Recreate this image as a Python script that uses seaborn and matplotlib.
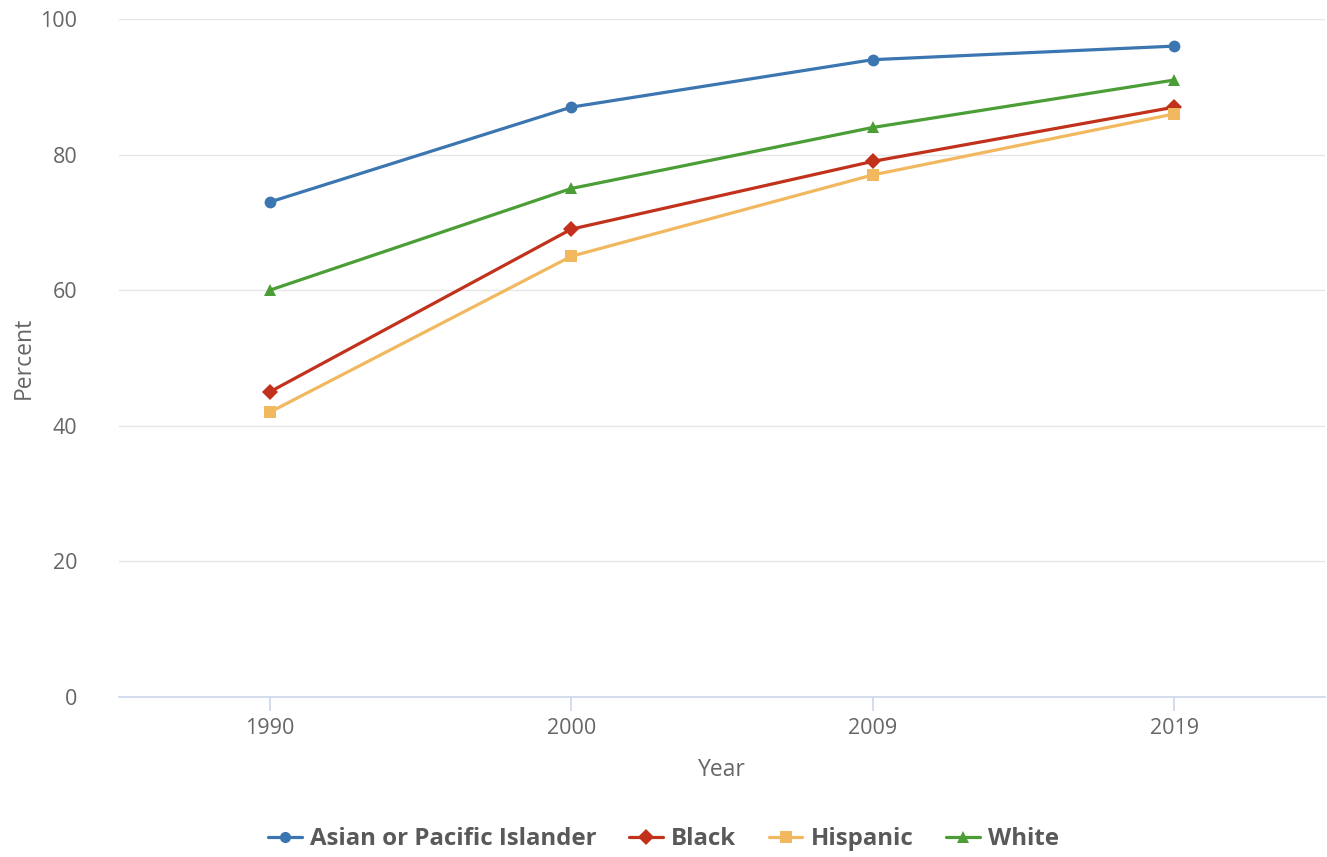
import pandas as pd
import matplotlib.pyplot as plt
import seaborn as sns

# Data
years = ["1990", "2000", "2009", "2019"]
groups = ["Asian or Pacific Islander", "Black", "Hispanic", "White"]
asian = [73, 87, 94, 96]
black = [45, 69, 79, 87]
hispanic = [42, 65, 77, 86]
white = [60, 75, 84, 91]

colors = ["#3b76b1", "#c1311b", "#f2b85f", "#4b9e36"]
markers = ["o", "D", "s", "^"]

df = pd.DataFrame({
    "Year": years * 4,
    "Percent": asian + black + hispanic + white,
    "Group": [g for g in groups for _ in years],
})

sns.set_style("white")
plt.rcParams["font.family"] = ["Open Sans", "DejaVu Sans"]

fig = plt.figure(figsize=(13.27, 8.57), dpi=100)
ax = fig.add_axes([119 / 1327, (857 - 697) / 857, (1325 - 119) / 1327, (697 - 19) / 857])

sns.lineplot(
    data=df, x="Year", y="Percent", hue="Group", style="Group",
    palette=dict(zip(groups, colors)),
    markers=dict(zip(groups, markers)),
    dashes=False, linewidth=2.3, markersize=8.5, markeredgewidth=0,
    ax=ax, legend=False,
)

ax.set_xlim(-0.5, 3.5)
ax.set_ylim(0, 100)
ax.set_yticks([0, 20, 40, 60, 80, 100])
ax.grid(axis="y", color="#e6e6e6", linewidth=1)
ax.set_axisbelow(True)
for s in ["top", "right", "left"]:
    ax.spines[s].set_visible(False)
ax.spines["bottom"].set_color("#ccd6eb")
ax.spines["bottom"].set_linewidth(1.2)
ax.tick_params(axis="x", bottom=True, labelcolor="#666666", color="#ccd6eb",
               labelsize=15.5, length=10, width=1.2, direction="out", pad=5)
ax.tick_params(axis="y", left=False, labelcolor="#666666", labelsize=15.5, length=0, pad=30)
ax.set_xlabel("Year", fontsize=16.5, color="#666666", labelpad=14)
ax.set_ylabel("Percent", fontsize=16.5, color="#666666", labelpad=3)

# Legend
handles = [
    plt.Line2D([], [], color=c, marker=m, linewidth=2.3, markersize=8, markeredgewidth=0)
    for c, m in zip(colors, markers)
]
leg = fig.legend(
    handles, groups, loc="center", bbox_to_anchor=(0.5, (857 - 839) / 857),
    ncol=4, frameon=False, handlelength=1.4, columnspacing=1.35, handletextpad=0.35,
    prop={"size": 17.3, "weight": "bold"},
)
for t in leg.get_texts():
    t.set_color("#595959")

fig.savefig("out.png", dpi=100)
